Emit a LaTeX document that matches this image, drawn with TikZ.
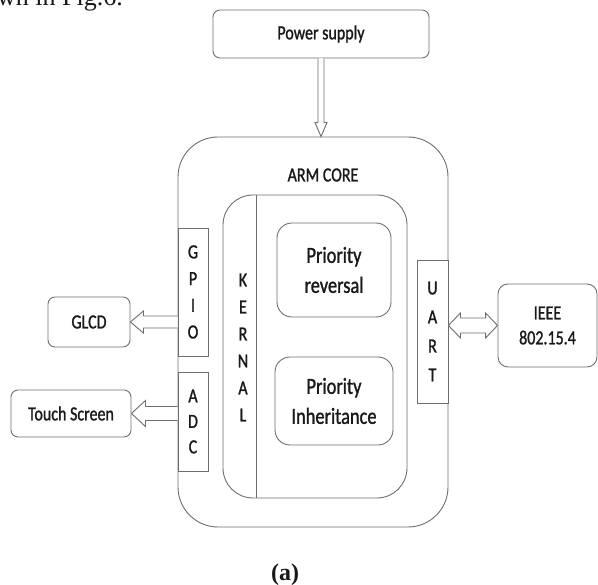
\documentclass[tikz,border=0pt]{standalone}
\usepackage{fontspec}
\setmainfont{Carlito}[FakeStretch=0.8, FakeBold=1.2]
\newfontfamily\capfont{Liberation Serif}
\usetikzlibrary{calc}

\definecolor{linegray}{RGB}{110,110,110}
\definecolor{textgray}{RGB}{25,25,25}

\tikzset{
  blk/.style={draw=linegray, line width=0.9pt, fill=white},
  box/.style={draw=linegray, line width=0.9pt, rounded corners=7pt, align=center,
    text=textgray, inner sep=0pt, font=\fontsize{20}{25}\selectfont},
  port/.style={draw=linegray, line width=0.9pt, fill=white, inner sep=0pt,
    align=center, text=textgray},
}

\begin{document}
\begin{tikzpicture}[x=1pt, y=1pt]
\useasboundingbox (0,0) rectangle (598,585);

% bit of page text above the figure
\begin{scope}
\clip (0,0) rectangle (598,585);
\node (pagetxt) [anchor=base west, inner sep=0pt, text=textgray,
  font=\capfont\fontsize{26}{30}\selectfont] at (-3,579) {wn in Fig.6.};
\end{scope}

\node (pwr) [box, minimum width=216pt, minimum height=48pt] at (321,551) {Power supply};

\node (arm) [draw=linegray, line width=0.9pt, rounded corners=40pt,
  minimum width=270pt, minimum height=390pt] at (313,253) {};
\node (armt) [text=textgray, font=\fontsize{20}{25}\selectfont] at (323,410) {ARM CORE};

\node (kern) [draw=linegray, line width=0.9pt, rounded corners=30pt,
  minimum width=184pt, minimum height=303pt] at (315,238.5) {};
\draw[linegray, line width=0.9pt] ([xshift=-59pt]kern.north) -- ([xshift=-59pt]kern.south);
\node (kernt) [align=center, text=textgray, font=\fontsize{20}{27}\selectfont]
  at (243,237.5) {K\\E\\R\\N\\A\\L};

\node (prev) [box, rounded corners=15pt, minimum width=114pt, minimum height=94pt,
  font=\fontsize{23}{30}\selectfont] at (334,315) {Priority\\reversal};
\node (pinh) [box, rounded corners=15pt, minimum width=118pt, minimum height=88pt,
  font=\fontsize{23}{30}\selectfont] at (334,184) {Priority\\Inheritance};

% ports on the core
\node (gpio) [port, minimum width=30pt, minimum height=128pt,
  font=\fontsize{20}{26.7}\selectfont] at (193,293) {G\\P\\I\\O};
\node (adc) [port, minimum width=30pt, minimum height=99pt,
  font=\fontsize{20}{25.5}\selectfont] at (193,163.5) {A\\D\\C};
\node (uart) [port, minimum width=31pt, minimum height=143pt,
  font=\fontsize{20}{29}\selectfont] at (432.5,253.5) {U\\A\\R\\T};

% outside blocks
\node (glcd) [box, minimum width=82pt, minimum height=50pt] at (89,263) {GLCD};
\node (touch) [box, minimum width=120pt, minimum height=47pt] at (71,171.5) {Touch Screen};
\node (ieee) [box, rounded corners=10pt, minimum width=99pt, minimum height=83pt]
  at (547.5,259.5) {IEEE\\802.15.4};

% hollow arrows
\coordinate (p1) at (pwr.south |- arm.north);
\draw[blk] ([xshift=-3pt]pwr.south) -- ([xshift=-3pt,yshift=14pt]p1)
  -- ([xshift=-6pt,yshift=14pt]p1) -- (p1) -- ([xshift=6pt,yshift=14pt]p1)
  -- ([xshift=3pt,yshift=14pt]p1) -- ([xshift=3pt]pwr.south);

\coordinate (g0) at (gpio.west |- glcd.east);
\draw[blk] ([yshift=6pt]g0) -- ([xshift=13pt,yshift=6pt]glcd.east)
  -- ([xshift=13pt,yshift=11pt]glcd.east) -- (glcd.east)
  -- ([xshift=13pt,yshift=-11pt]glcd.east) -- ([xshift=13pt,yshift=-6pt]glcd.east)
  -- ([yshift=-6pt]g0);

\coordinate (a0) at (adc.west |- touch.east);
\draw[blk] ([yshift=7pt]a0) -- ([xshift=14pt,yshift=7pt]touch.east)
  -- ([xshift=14pt,yshift=13pt]touch.east) -- (touch.east)
  -- ([xshift=14pt,yshift=-13pt]touch.east) -- ([xshift=14pt,yshift=-7pt]touch.east)
  -- ([yshift=-7pt]a0);

\coordinate (u0) at (uart.east |- ieee.west);
\draw[blk] (u0) -- ([xshift=12pt,yshift=12.5pt]u0) -- ([xshift=12pt,yshift=7.5pt]u0)
  -- ([xshift=-12pt,yshift=7.5pt]ieee.west) -- ([xshift=-12pt,yshift=12.5pt]ieee.west)
  -- (ieee.west) -- ([xshift=-12pt,yshift=-12.5pt]ieee.west)
  -- ([xshift=-12pt,yshift=-7.5pt]ieee.west) -- ([xshift=12pt,yshift=-7.5pt]u0)
  -- ([xshift=12pt,yshift=-12.5pt]u0) -- cycle;

\node (cap) [text=textgray, font=\capfont\bfseries\fontsize{24}{28}\selectfont] at (285,10) {(a)};
\end{tikzpicture}
\end{document}
